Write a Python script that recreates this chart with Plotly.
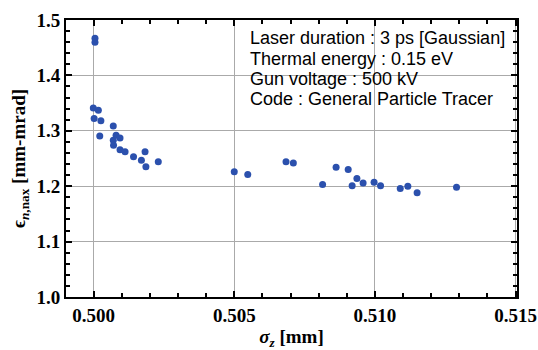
import plotly.graph_objects as go

sigma_z = [0.50005, 0.50005, 0.49999, 0.50017, 0.50002, 0.50026, 0.50022, 0.50070,
           0.50080, 0.50094, 0.50070, 0.50071, 0.50094, 0.50112, 0.50142, 0.50170,
           0.50183, 0.50186, 0.50230,
           0.50500, 0.50548, 0.50684, 0.50710, 0.50814, 0.50862, 0.50905, 0.50936,
           0.50919, 0.50958, 0.50997, 0.51020, 0.51090, 0.51117, 0.51150, 0.51290]
emit = [1.467, 1.460, 1.341, 1.337, 1.322, 1.318, 1.2905, 1.3085,
        1.292, 1.287, 1.283, 1.274, 1.266, 1.262, 1.253, 1.247,
        1.262, 1.235, 1.244,
        1.226, 1.221, 1.244, 1.242, 1.203, 1.234, 1.230, 1.214,
        1.201, 1.206, 1.207, 1.201, 1.196, 1.200, 1.188, 1.198]

info_lines = ["Laser duration : 3 ps [Gaussian]",
              "Thermal energy : 0.15 eV",
              "Gun voltage : 500 kV",
              "Code : General Particle Tracer"]

fig = go.Figure()
fig.add_trace(go.Scatter(x=sigma_z, y=emit, mode="markers",
                         marker=dict(color="#2b50ad", size=7, line=dict(width=0)),
                         showlegend=False))

line_y = [0.935, 0.861, 0.787, 0.715]
for t, yy in zip(info_lines, line_y):
    fig.add_annotation(text=t, xref="paper", yref="paper", x=0.404, y=yy,
                       xanchor="left", yanchor="middle", showarrow=False,
                       font=dict(family="Liberation Sans, Arial", size=18, color="black"))

tickfont = dict(family="Liberation Serif, Times New Roman", size=19, color="black", weight="bold")
axcommon = dict(showline=True, linecolor="black", linewidth=2, mirror="allticks",
                ticks="inside", ticklen=6, tickcolor="black", tickwidth=1.5,
                showgrid=True, gridcolor="#aaaaaa", gridwidth=1, zeroline=False,
                tickfont=tickfont, automargin=False)

fig.update_xaxes(range=[0.49902, 0.51505], tickmode="array",
                 tickvals=[0.500, 0.505, 0.510, 0.515], ticktext=["0.500", "0.505", "0.510", "0.515"],
                 minor=dict(dtick=0.001, tick0=0.5, ticks="inside", ticklen=4, tickcolor="black", showgrid=False),
                 title=dict(text="<b><i>σ</i><sub><i>z</i></sub> [mm]</b>",
                            font=dict(family="Liberation Serif, Times New Roman", size=19, color="black"),
                            standoff=10),
                 **axcommon)
fig.update_yaxes(range=[1.0, 1.5], tickmode="array",
                 tickvals=[1.0, 1.1, 1.2, 1.3, 1.4, 1.5], ticktext=["1.0", "1.1", "1.2", "1.3", "1.4", "1.5"],
                 minor=dict(dtick=0.02, tick0=1.0, ticks="inside", ticklen=4, tickcolor="black", showgrid=False),
                 title=dict(text="<b>ϵ<sub><i>n</i>,nax</sub> [mm-mrad]</b>",
                            font=dict(family="Liberation Serif, Times New Roman", size=19, color="black"),
                            standoff=6),
                 **axcommon)

fig.update_layout(width=538, height=350, margin=dict(l=66, r=21, t=20, b=53, pad=0),
                  plot_bgcolor="white", paper_bgcolor="white")

fig.write_html("out.html")
